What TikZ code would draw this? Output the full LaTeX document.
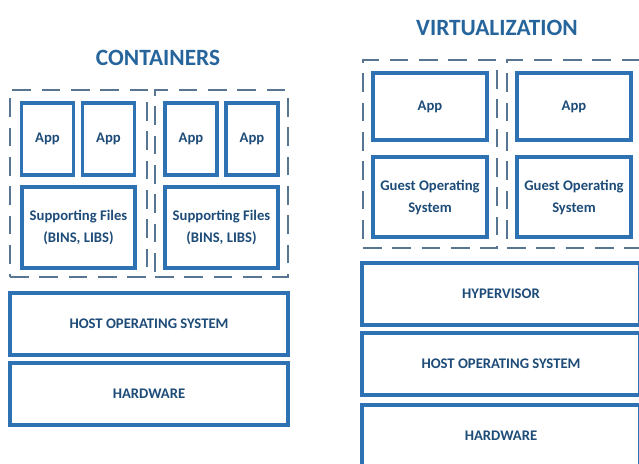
\documentclass[tikz,border=0pt]{standalone}
\usepackage{fontspec}
\setmainfont{Carlito}
\definecolor{boxblue}{RGB}{46,114,180}
\definecolor{textblue}{RGB}{30,76,120}
\definecolor{titleblue}{RGB}{38,100,156}
\definecolor{dashgray}{RGB}{88,118,146}
\tikzset{every picture/.style={line width=0.75pt}}
\tikzset{
  layerbox/.style={draw=boxblue,line width=2.6pt,fill=white,inner sep=0pt,align=center,
    font=\bfseries\fontsize{11}{16.5}\selectfont,text=textblue},
  dashbox/.style={draw=dashgray,line width=1.5pt,dash pattern=on 14pt off 8pt,inner sep=0pt},
  titletext/.style={inner sep=0pt,font=\bfseries\fontsize{17.5}{20}\selectfont,text=titleblue}
}

\begin{document}
\begin{tikzpicture}[x=0.75pt,y=0.75pt,yscale=-1,xscale=1]
\useasboundingbox (0,0) rectangle (639,464);
\begin{scope}
\clip (0,0) rectangle (639,464);

% Title Nodes
\node [titletext] (ctitle) at (158,58) {CONTAINERS};
\node [titletext] (vtitle) at (497,28) {VIRTUALIZATION};

%Containers: dashed groups
\node [dashbox,minimum width=102.75pt,minimum height=140.25pt] (cgrp1) at (78.5,183.5) {};
\node [dashbox,minimum width=99.75pt,minimum height=140.25pt] (cgrp2) at (221.5,183.5) {};

%Containers: apps
\node [layerbox,minimum width=39pt,minimum height=54pt] (capp1) at (47.5,139) {App};
\node [layerbox,minimum width=39pt,minimum height=54pt] (capp2) at (108.5,139) {App};
\node [layerbox,minimum width=39pt,minimum height=54pt] (capp3) at (191,139) {App};
\node [layerbox,minimum width=39pt,minimum height=54pt] (capp4) at (252,139) {App};

%Containers: supporting files
\node [layerbox,minimum width=84.75pt,minimum height=60.75pt] (csup1) at (78.5,227.5) {Supporting Files\\(BINS, LIBS)};
\node [layerbox,minimum width=84.75pt,minimum height=60.75pt] (csup2) at (221.5,227.5) {Supporting Files\\(BINS, LIBS)};

%Containers: layers
\node [layerbox,minimum width=208.5pt,minimum height=46.5pt] (chost) at (149,324) {HOST OPERATING SYSTEM};
\node [layerbox,minimum width=208.5pt,minimum height=46.5pt] (chw) at (149,394) {HARDWARE};

%Virtualization: dashed groups
\node [dashbox,minimum width=100.5pt,minimum height=141pt] (vgrp1) at (430,154) {};
\node [dashbox,minimum width=100.5pt,minimum height=141pt] (vgrp2) at (574,154) {};

%Virtualization: apps and guest systems
\node [layerbox,minimum width=85.5pt,minimum height=50.25pt] (vapp1) at (430,106.5) {App};
\node [layerbox,minimum width=85.5pt,minimum height=50.25pt] (vapp2) at (574,106.5) {App};
\node [layerbox,minimum width=85.5pt,minimum height=60pt] (vgos1) at (430,197) {Guest Operating\\System};
\node [layerbox,minimum width=85.5pt,minimum height=60pt] (vgos2) at (574,197) {Guest Operating\\System};

%Virtualization: layers
\node [layerbox,minimum width=208.5pt,minimum height=46.5pt] (vhyp) at (501,294) {HYPERVISOR};
\node [layerbox,minimum width=208.5pt,minimum height=46.5pt] (vhost) at (501,364) {HOST OPERATING SYSTEM};
\node [layerbox,minimum width=208.5pt,minimum height=46.5pt] (vhw) at (501,436) {HARDWARE};

\end{scope}
\end{tikzpicture}
\end{document}
